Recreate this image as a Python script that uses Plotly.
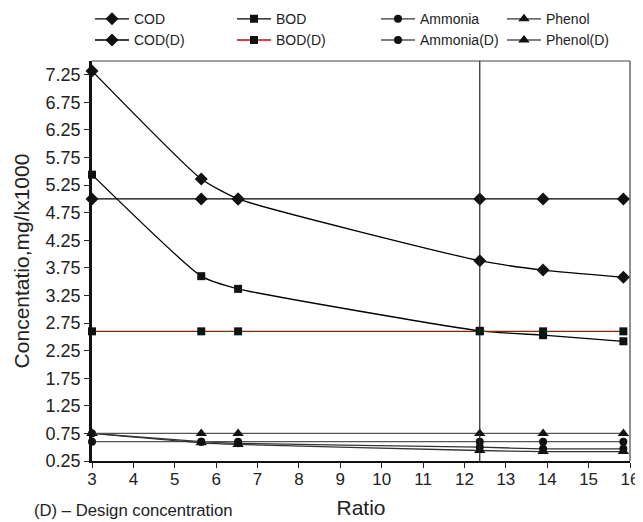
import plotly.graph_objects as go

ratio = [3, 5.64, 6.53, 12.37, 13.9, 15.84]
cod = [7.32, 5.36, 5.0, 3.88, 3.71, 3.58]
bod = [5.44, 3.60, 3.37, 2.61, 2.53, 2.42]
ammonia = [0.75, 0.60, 0.57, 0.50, 0.47, 0.47]
phenol = [0.75, 0.58, 0.55, 0.44, 0.42, 0.42]
cod_d = [5.0] * 6
bod_d = [2.6] * 6
ammonia_d = [0.6] * 6
phenol_d = [0.75] * 6
design_ratio = 12.37

y_ticks = [0.25 + 0.5 * i for i in range(15)]
x_ticks = list(range(3, 17))

FONT = "Liberation Sans, Arial, sans-serif"

# name, values, symbol, size, line colour, line shape, legend column
series = [
    ("COD", cod, "diamond", 10, "#000000", "spline", "legend"),
    ("COD(D)", cod_d, "diamond", 10, "#000000", "linear", "legend"),
    ("BOD", bod, "square", 8, "#000000", "spline", "legend2"),
    ("BOD(D)", bod_d, "square", 8, "#cc0000", "linear", "legend2"),
    ("Ammonia", ammonia, "circle", 8, "#333333", "spline", "legend3"),
    ("Ammonia(D)", ammonia_d, "circle", 8, "#555555", "linear", "legend3"),
    ("Phenol", phenol, "triangle-up", 10, "#333333", "spline", "legend4"),
    ("Phenol(D)", phenol_d, "triangle-up", 10, "#555555", "linear", "legend4"),
]

fig = go.Figure()
for name, vals, sym, size, col, shape, leg in series:
    fig.add_trace(go.Scatter(
        x=ratio, y=vals, name=name, mode="lines+markers", legend=leg,
        line=dict(color=col, width=1.3, shape=shape, smoothing=0.5),
        marker=dict(symbol=sym, size=size, color="#111111"),
        cliponaxis=False,
    ))

# vertical design ratio line
fig.add_shape(type="line", x0=design_ratio, x1=design_ratio, y0=0.25, y1=7.5,
              xref="x", yref="y", line=dict(color="#222222", width=1.2))
# top and right frame
fig.add_shape(type="line", x0=0, x1=1, y0=1, y1=1, xref="paper", yref="paper",
              line=dict(color="#444444", width=1.2))
fig.add_shape(type="line", x0=1, x1=1, y0=0, y1=1, xref="paper", yref="paper",
              line=dict(color="#444444", width=1.2))

fig.add_annotation(text="(D) – Design concentration", xref="paper", yref="paper",
                   x=-0.1115, y=-0.1225, xanchor="left", yanchor="middle",
                   showarrow=False, font=dict(family=FONT, size=16.7, color="#222222"))

leg_common = dict(orientation="v", yanchor="top", xanchor="left", y=1.1445,
                  font=dict(family=FONT, size=14, color="#222222"),
                  tracegroupgap=0, itemwidth=34, bgcolor="rgba(0,0,0,0)")

# page body has an 8px margin, so the figure is 8px smaller than the window
fig.update_layout(
    width=635, height=514,
    margin=dict(l=84, r=13, t=53, b=61, autoexpand=False),
    paper_bgcolor="white", plot_bgcolor="white",
    font=dict(family=FONT, color="#222222"),
    showlegend=True,
    legend=dict(x=-0.0037, **leg_common),
    legend2=dict(x=0.2602, **leg_common),
    legend3=dict(x=0.5279, **leg_common),
    legend4=dict(x=0.762, **leg_common),
    xaxis=dict(
        range=[3, 16], tickvals=x_ticks, ticks="outside", ticklen=5,
        tickwidth=1.2, tickcolor="#222222", ticklabelstandoff=-3,
        showline=True, linecolor="#111111", linewidth=2, showgrid=False,
        zeroline=False, tickfont=dict(family=FONT, size=17),
        title=dict(text="Ratio", font=dict(family=FONT, size=21), standoff=12),
    ),
    yaxis=dict(
        range=[0.25, 7.5], tickvals=y_ticks, tickformat=".2f", ticks="outside",
        ticklen=5, tickwidth=1.2, tickcolor="#222222",
        showline=True, linecolor="#111111", linewidth=2.5, showgrid=False,
        zeroline=False, tickfont=dict(family=FONT, size=18),
        title=dict(text="Concentatio,mg/lx1000", font=dict(family=FONT, size=21), standoff=11),
    ),
)

fig.write_html("out.html")
